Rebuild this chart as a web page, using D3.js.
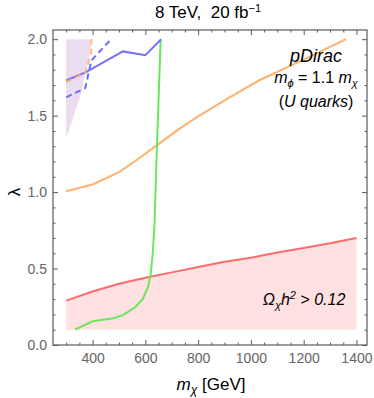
<!DOCTYPE html>
<html>
<head>
<meta charset="utf-8">
<script src="https://cdn.jsdelivr.net/npm/d3@7"></script>
<style>
  body { margin: 0; background: #fff; }
  svg { font-family: "Liberation Sans", Arial, sans-serif; }
</style>
</head>
<body>
<div id="chart"></div>
<script>
// --- Data (m_chi in GeV, lambda) ---
const relicMass   = [300, 400, 500, 600, 700, 800, 900, 1000, 1100, 1200, 1300, 1400];
const relicLambda = [0.29, 0.35, 0.40, 0.44, 0.475, 0.51, 0.545, 0.57, 0.605, 0.635, 0.665, 0.70];
const relicFloor  = 0.1;

const orangeMass   = [300, 400, 500, 567, 655, 731, 800, 900, 1034, 1100, 1224, 1300, 1360];
const orangeLambda = [1.005, 1.05, 1.13, 1.21, 1.32, 1.417, 1.495, 1.6, 1.733, 1.786, 1.886, 1.95, 2.0];

const orangeDashMass   = [300, 371, 381, 394, 396];
const orangeDashLambda = [1.72, 1.78, 1.83, 1.90, 2.0];

const greenMass   = [333, 400, 480, 515, 560, 590, 610, 620, 628, 635, 642, 650, 658];
const greenLambda = [0.1, 0.155, 0.175, 0.195, 0.245, 0.30, 0.38, 0.46, 0.60, 0.80, 1.2, 1.6, 2.0];

const blueMass   = [300, 375, 515, 600, 660];
const blueLambda = [1.73, 1.785, 1.92, 1.895, 2.0];

const blueDashMass   = [300, 372, 385, 395, 470];
const blueDashLambda = [1.62, 1.68, 1.78, 1.86, 2.0];

// purple excluded wedge (outline, clockwise)
const wedgeMass   = [300, 396, 390, 377, 352, 300];
const wedgeLambda = [2.0, 2.0, 1.91, 1.80, 1.62, 1.35];

const xTickValues = [400, 600, 800, 1000, 1200, 1400];
const yTickValues = [0, 0.5, 1.0, 1.5, 2.0];

// --- Layout ---
const W = 374, H = 398;
const x = d3.scaleLinear().domain([250, 1440]).range([53, 367]);
const y = d3.scaleLinear().domain([0, 2.06]).range([345, 30]);

const svg = d3.select('#chart').append('svg')
    .attr('width', W)
    .attr('height', H);

const zip = (xs, ys) => xs.map((v, i) => [v, ys[i]]);
const line = d3.line().x(d => x(d[0])).y(d => y(d[1]));

// Clip to plot frame
svg.append('clipPath').attr('id', 'plot-clip')
  .append('rect')
    .attr('x', x.range()[0]).attr('y', y.range()[1])
    .attr('width', x.range()[1] - x.range()[0])
    .attr('height', y.range()[0] - y.range()[1]);

const plot = svg.append('g').attr('clip-path', 'url(#plot-clip)');

// Relic density region (pink)
const relic = zip(relicMass, relicLambda);
plot.append('path')
    .datum(relic)
    .attr('fill', '#ffe1e1')
    .attr('d', d3.area().x(d => x(d[0])).y0(y(relicFloor)).y1(d => y(d[1])));

// Purple wedge
plot.append('path')
    .datum(zip(wedgeMass, wedgeLambda))
    .attr('fill', '#ebdcef')
    .attr('d', d => line(d) + 'Z');

// Lines
const lines = [
    { data: relic, color: '#ff6b6b' },
    { data: zip(orangeMass, orangeLambda), color: '#ffb16b' },
    { data: zip(greenMass, greenLambda), color: '#6ae65c' },
    { data: zip(blueMass, blueLambda), color: '#6b6bff', opacity: 0.95 },
    { data: zip(blueDashMass, blueDashLambda), color: '#6b6bff', dash: '6,4' },
    { data: zip(orangeDashMass, orangeDashLambda), color: '#ffb16b', dash: '6,4', opacity: 0.85 }
];

lines.forEach(l => {
    plot.append('path')
        .datum(l.data)
        .attr('fill', 'none')
        .attr('stroke', l.color)
        .attr('stroke-width', 2)
        .attr('stroke-opacity', l.opacity || 1)
        .attr('stroke-dasharray', l.dash || null)
        .attr('d', line);
});

// --- Axes (Mathematica-like frame, ticks pointing inward) ---
const xMinor = d3.range(300, 1450, 50).filter(v => !xTickValues.includes(v));
const yMinor = d3.range(0, 21).map(v => v / 10).filter(v => !yTickValues.includes(v));
const frameColor = '#5a5a5a';

function styleAxis(g) {
    g.selectAll('line').attr('stroke', frameColor);
    g.selectAll('path').remove();
    g.selectAll('text')
        .attr('fill', '#666')
        .style('font-size', '14px')
        .style('font-family', '"Liberation Sans", Arial, sans-serif');
}

svg.append('g')
    .attr('transform', `translate(0, ${y.range()[0]})`)
    .call(d3.axisBottom(x).tickValues(xTickValues).tickSize(-5).tickPadding(8).tickFormat(d3.format('d')))
    .call(styleAxis);
svg.append('g')
    .attr('transform', `translate(0, ${y.range()[0]})`)
    .call(d3.axisBottom(x).tickValues(xMinor).tickSize(-2.5).tickFormat(''))
    .call(styleAxis);
svg.append('g')
    .attr('transform', `translate(0, ${y.range()[1]})`)
    .call(d3.axisTop(x).tickValues(xTickValues).tickSize(-5).tickFormat(''))
    .call(styleAxis);
svg.append('g')
    .attr('transform', `translate(0, ${y.range()[1]})`)
    .call(d3.axisTop(x).tickValues(xMinor).tickSize(-2.5).tickFormat(''))
    .call(styleAxis);

svg.append('g')
    .attr('transform', `translate(${x.range()[0]}, 0)`)
    .call(d3.axisLeft(y).tickValues(yTickValues).tickSize(-5).tickPadding(6).tickFormat(d3.format('.1f')))
    .call(styleAxis);
svg.append('g')
    .attr('transform', `translate(${x.range()[0]}, 0)`)
    .call(d3.axisLeft(y).tickValues(yMinor).tickSize(-2.5).tickFormat(''))
    .call(styleAxis);
svg.append('g')
    .attr('transform', `translate(${x.range()[1]}, 0)`)
    .call(d3.axisRight(y).tickValues(yTickValues).tickSize(-5).tickFormat(''))
    .call(styleAxis);
svg.append('g')
    .attr('transform', `translate(${x.range()[1]}, 0)`)
    .call(d3.axisRight(y).tickValues(yMinor).tickSize(-2.5).tickFormat(''))
    .call(styleAxis);

// Frame
svg.append('rect')
    .attr('x', x.range()[0]).attr('y', y.range()[1])
    .attr('width', x.range()[1] - x.range()[0])
    .attr('height', y.range()[0] - y.range()[1])
    .attr('fill', 'none')
    .attr('stroke', frameColor)
    .attr('stroke-width', 1.2);

// --- Texts ---
const title = svg.append('text')
    .attr('x', 208).attr('y', 18)
    .attr('text-anchor', 'middle')
    .style('font-size', '17px');
title.append('tspan').text('8 TeV,\u00a0\u00a020 fb');
title.append('tspan').attr('dy', -6).style('font-size', '11px').text('−1');

const xLabel = svg.append('text')
    .attr('x', 211).attr('y', 390)
    .attr('text-anchor', 'middle')
    .style('font-size', '17px');
xLabel.append('tspan').style('font-style', 'italic').text('m');
xLabel.append('tspan').attr('dy', 4).style('font-size', '12px').style('font-style', 'italic').text('χ');
xLabel.append('tspan').attr('dy', -4).text(' [GeV]');

svg.append('text')
    .attr('transform', `translate(20, ${y(1.0)}) rotate(-90)`)
    .attr('text-anchor', 'middle')
    .style('font-size', '17px')
    .text('λ');

svg.append('text')
    .attr('x', 316).attr('y', 62)
    .attr('text-anchor', 'middle')
    .style('font-size', '18px')
    .style('font-style', 'italic')
    .text('pDirac');

const mphi = svg.append('text')
    .attr('x', 316).attr('y', 83)
    .attr('text-anchor', 'middle')
    .style('font-size', '16px');
mphi.append('tspan').style('font-style', 'italic').text('m');
mphi.append('tspan').attr('dy', 4).style('font-size', '11px').style('font-style', 'italic').text('ϕ');
mphi.append('tspan').attr('dy', -4).text(' = 1.1 ');
mphi.append('tspan').style('font-style', 'italic').text('m');
mphi.append('tspan').attr('dy', 4).style('font-size', '11px').style('font-style', 'italic').text('χ');

const quarks = svg.append('text')
    .attr('x', 316).attr('y', 107)
    .attr('text-anchor', 'middle')
    .style('font-size', '16px');
quarks.append('tspan').text('(');
quarks.append('tspan').style('font-style', 'italic').text('U quarks');
quarks.append('tspan').text(')');

const omega = svg.append('text')
    .attr('x', 304).attr('y', 305)
    .attr('text-anchor', 'middle')
    .style('font-size', '16px')
    .style('font-style', 'italic');
omega.append('tspan').text('Ω');
omega.append('tspan').attr('dy', 4).style('font-size', '11px').text('χ');
omega.append('tspan').attr('dy', -4).text('h');
omega.append('tspan').attr('dy', -6).style('font-size', '11px').text('2');
omega.append('tspan').attr('dy', 6).text(' > 0.12');
</script>
</body>
</html>
